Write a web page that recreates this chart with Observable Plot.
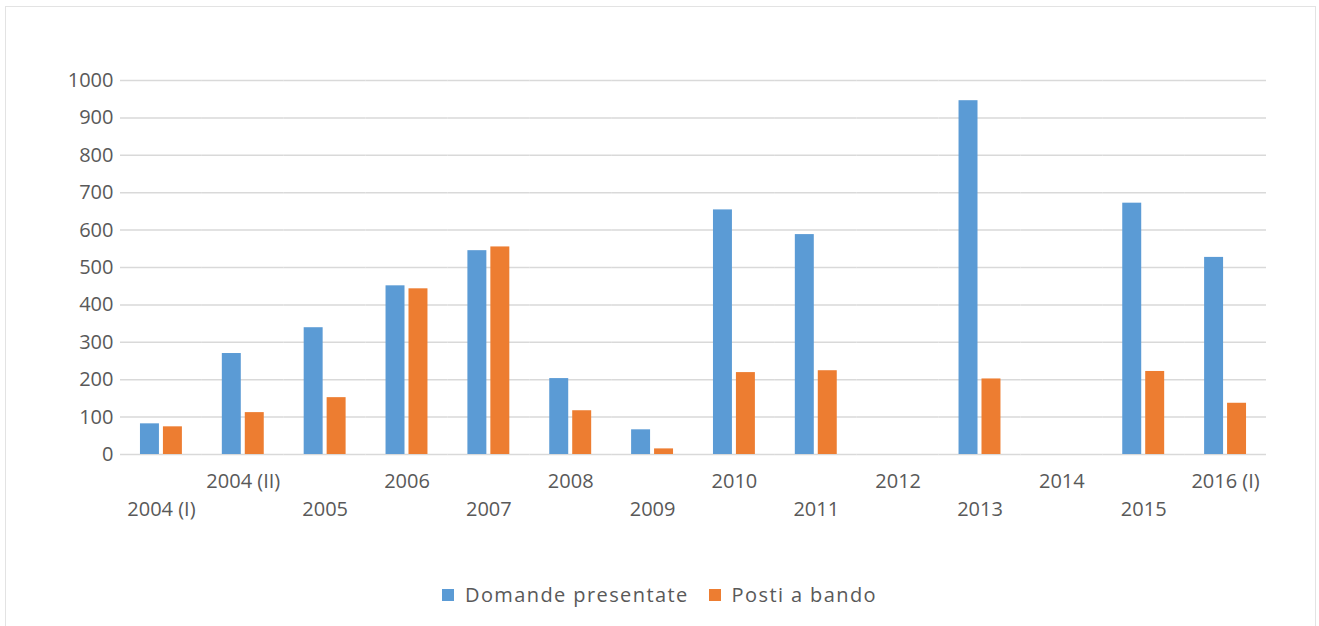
<!DOCTYPE html>
<html>
<head>
<meta charset="utf-8">
<script src="https://cdn.jsdelivr.net/npm/d3@7"></script>
<script src="https://cdn.jsdelivr.net/npm/@observablehq/plot@0.6"></script>
<style>
  html, body { margin: 0; padding: 0; background: #fff; }
  body { width: 1319px; height: 626px; position: relative; overflow: hidden; font-family: "Open Sans", sans-serif; }
  #frame { position: absolute; left: 5px; top: 6px; width: 1311px; height: 660px; border: 1px solid #e3e3e3; box-sizing: border-box; }
  #chart { position: absolute; left: 0; top: 0; }
  #legend { position: absolute; left: 0; width: 1319px; top: 581px; display: flex; justify-content: center; align-items: center; font-size: 20px; color: #595959; letter-spacing: 1.4px; }
  .item { display: flex; align-items: center; }
  .sw { width: 12px; height: 12px; margin-right: 11px; }
  .gap { width: 20px; }
</style>
</head>
<body>
<div id="frame"></div>
<div id="chart"></div>
<div id="legend"></div>
<script>
const categories = ["2004 (I)", "2004 (II)", "2005", "2006", "2007", "2008", "2009", "2010", "2011", "2012", "2013", "2014", "2015", "2016 (I)"];
const seriesNames = ["Domande presentate", "Posti a bando"];
const domande = [82, 270, 339, 451, 545, 203, 66, 654, 588, null, 946, null, 672, 527];
const posti = [74, 112, 152, 443, 555, 117, 15, 219, 224, null, 202, null, 222, 137];
const yTicks = [0, 100, 200, 300, 400, 500, 600, 700, 800, 900, 1000];
const colors = ["#5b9bd5", "#ed7d31"];

const rows = [];
categories.forEach((c, i) => {
  rows.push({cat: c, series: seriesNames[0], value: domande[i]});
  rows.push({cat: c, series: seriesNames[1], value: posti[i]});
});
const upperLabels = categories.filter((c, i) => i % 2 === 1);
const lowerLabels = categories.filter((c, i) => i % 2 === 0);

const gridColor = "#d9d9d9";

const chart = Plot.plot({
  width: 1319,
  height: 560,
  marginLeft: 120,
  marginRight: 53,
  marginTop: 80,
  marginBottom: 106,
  style: {fontFamily: "Open Sans, sans-serif", fontSize: "20px", color: "#595959", background: "transparent"},
  fx: {domain: categories, padding: 0, round: false, axis: null},
  x: {domain: seriesNames, paddingInner: 4 / 23, paddingOuter: 20 / 23, round: false, axis: null},
  y: {domain: [0, 1000], axis: null},
  color: {domain: seriesNames, range: colors},
  marks: [
    Plot.ruleY(yTicks, {stroke: gridColor, strokeWidth: 1.5}),
    Plot.barY(rows, {fx: "cat", x: "series", y: "value", fill: "series", filter: d => d.value != null}),
    Plot.axisY({ticks: yTicks, tickFormat: d => String(d), tickSize: 0, tickPadding: 7, fontSize: 20, fill: "#595959", label: null}),
    Plot.text(upperLabels, {fx: d => d, text: d => d, frameAnchor: "bottom", dy: 33, fontSize: 20, fill: "#595959"}),
    Plot.text(lowerLabels, {fx: d => d, text: d => d, frameAnchor: "bottom", dy: 61, fontSize: 20, fill: "#595959"})
  ]
});
document.getElementById("chart").appendChild(chart);

const legend = document.getElementById("legend");
seriesNames.forEach((name, i) => {
  if (i > 0) { const g = document.createElement("div"); g.className = "gap"; legend.appendChild(g); }
  const item = document.createElement("div");
  item.className = "item";
  const sw = document.createElement("div");
  sw.className = "sw";
  sw.style.background = colors[i];
  const t = document.createElement("span");
  t.textContent = name;
  item.appendChild(sw);
  item.appendChild(t);
  legend.appendChild(item);
});
</script>
</body>
</html>
